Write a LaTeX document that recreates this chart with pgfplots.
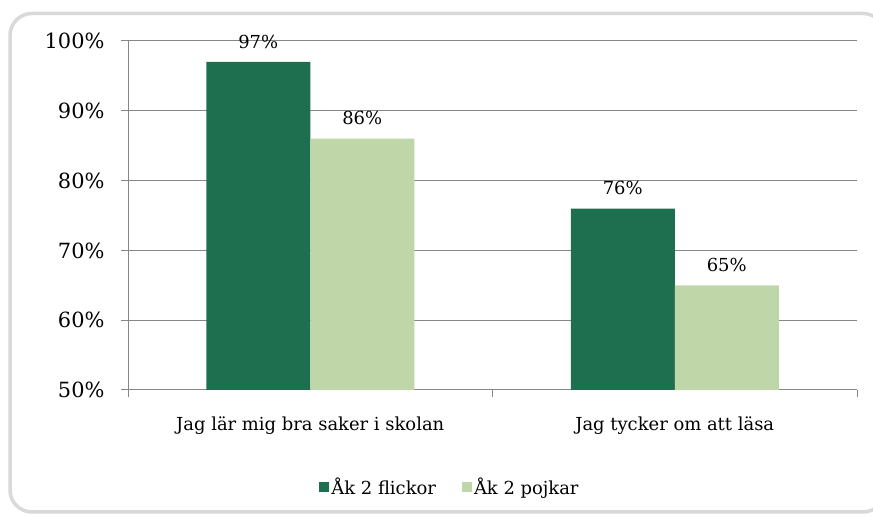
\documentclass[border=0pt]{standalone}
\usepackage{fontspec}
\setmainfont{DejaVu Serif}
\usepackage{pgfplots}
\pgfplotsset{compat=1.18}
\definecolor{darkg}{RGB}{30,110,80}
\definecolor{lightg}{RGB}{191,215,168}
\definecolor{gridg}{RGB}{134,134,134}
\definecolor{frameg}{RGB}{217,217,217}
\begin{document}
\begin{tikzpicture}[x=1bp,y=1bp]
\path[use as bounding box] (0,0) rectangle (873,516);
\begin{scope}
\clip (0,0) rectangle (873,516);
\draw[frameg, line width=3.5bp, rounded corners=22bp] (10,4) rectangle (885,502.5);
\end{scope}
\begin{axis}[
  at={(128bp,126bp)}, anchor=south west,
  scale only axis, width=729bp, height=349bp,
  xmin=-0.5, xmax=1.5, ymin=50, ymax=100,
  axis x line*=bottom, axis y line*=left,
  axis line style={gridg, line width=1bp},
  ytick={50,60,70,80,90,100},
  ymajorgrids, grid style={gridg, line width=1bp},
  xtick={-0.5,0.5,1.5}, xticklabels={},
  extra x ticks={0,1}, extra x tick labels={Jag lär mig bra saker i skolan, Jag tycker om att läsa},
  extra x tick style={major tick length=0pt, grid=none,
     xticklabel style={font=\fontsize{18}{22}\selectfont, yshift=-23bp}},
  major tick length=7bp,
  tick style={gridg, line width=1bp},
  tick align=outside,
  /pgf/number format/assume math mode=true,
  yticklabel={\pgfmathprintnumber{\tick}\%},
  yticklabel style={font=\fontsize{21}{25}\selectfont, xshift=-13bp},
  ybar=0pt, bar width=104bp,
  every axis plot/.append style={draw=none},
  nodes near coords={\pgfmathprintnumber{\pgfplotspointmeta}\%},
  nodes near coords style={font=\fontsize{18}{22}\selectfont, text=black, anchor=south, yshift=10bp},
  legend style={at={(0.4417,-0.278)}, anchor=center, draw=none, legend columns=2,
    font=\fontsize{18}{22}\selectfont, /tikz/every even column/.append style={column sep=24bp}},
  legend image code/.code={\fill[#1] (2bp,-5bp) rectangle (12bp,5bp);},
]
\addplot[fill=darkg] coordinates {(0,97) (1,76)};
\addplot[fill=lightg] coordinates {(0,86) (1,65)};
\legend{Åk 2 flickor, Åk 2 pojkar}
\end{axis}
\end{tikzpicture}
\end{document}
